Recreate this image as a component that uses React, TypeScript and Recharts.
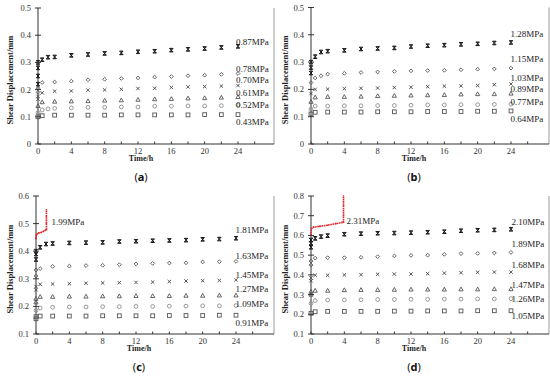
import React from 'react';
import { ScatterChart, Scatter, XAxis, YAxis, ReferenceDot, ReferenceLine } from 'recharts';

const SERIF = '"Liberation Serif", "Times New Roman", serif';

// creep-stage sampling times (h)
const times = [0.5, 1.2, 2, 4, 6, 8, 10, 12, 14, 16, 18, 20, 22, 24];
const xTicks = [0, 2, 4, 6, 8, 10, 12, 14, 16, 18, 20, 22, 24, 26];

// ---------- panel (a) ----------
const aLabels = ['0.87MPa', '0.78MPa', '0.70MPa', '0.61MPa', '0.52MPa', '0.43MPa'];
const aLabelY = [0.377, 0.275, 0.236, 0.189, 0.143, 0.08];
const aS1 = [0.31, 0.319, 0.32, 0.326, 0.329, 0.333, 0.335, 0.339, 0.341, 0.345, 0.348, 0.351, 0.355, 0.359];
const aS2 = [0.226, null, 0.228, 0.231, 0.236, 0.238, 0.241, 0.243, 0.246, 0.248, 0.251, 0.253, 0.256, 0.259];
const aS3 = [0.188, null, 0.194, 0.195, 0.198, 0.199, 0.201, 0.204, 0.205, 0.208, 0.21, 0.211, 0.213, 0.215];
const aS4 = [0.154, null, 0.156, 0.157, 0.158, 0.16, 0.161, 0.163, 0.165, 0.166, 0.168, 0.169, 0.171, 0.173];
const aS5 = [0.125, 0.129, 0.131, 0.133, 0.135, 0.135, 0.136, 0.136, 0.139, 0.139, 0.14, 0.14, 0.141, 0.144];
const aS6 = [0.104, null, 0.106, 0.106, 0.106, 0.106, 0.107, 0.107, 0.107, 0.107, 0.107, 0.108, 0.108, 0.108];
const aLoad = [[0.22, 0.25, 0.28, 0.3], [0.19, 0.205], [0.165, 0.175], [0.14], [0.115], [0.1]];

// ---------- panel (b) ----------
const bLabels = ['1.28MPa', '1.15MPa', '1.03MPa', '0.89MPa', '0.77MPa', '0.64MPa'];
const bLabelY = [0.403, 0.311, 0.244, 0.201, 0.155, 0.094];
const bS1 = [0.32, 0.337, 0.34, 0.343, 0.348, 0.35, 0.352, 0.357, 0.36, 0.362, 0.365, 0.367, 0.37, 0.372];
const bS2 = [0.242, 0.25, 0.256, 0.259, 0.262, 0.264, 0.266, 0.268, 0.269, 0.27, 0.272, 0.274, 0.275, 0.278];
const bS3 = [0.2, null, 0.201, 0.203, 0.204, 0.205, 0.207, 0.208, 0.21, 0.212, 0.213, 0.214, 0.217, 0.22];
const bS4 = [0.171, null, 0.173, 0.173, 0.174, 0.176, 0.177, 0.178, 0.179, 0.18, 0.182, 0.183, 0.183, 0.185];
const bS5 = [0.139, null, 0.139, 0.14, 0.14, 0.141, 0.141, 0.142, 0.143, 0.143, 0.144, 0.144, 0.145, 0.146];
const bS6 = [0.116, null, 0.117, 0.117, 0.117, 0.118, 0.118, 0.118, 0.119, 0.119, 0.119, 0.12, 0.12, 0.121];
const bLoad = [[0.26, 0.28, 0.3], [0.225], [0.185], [0.155], [0.128], [0.11]];

// ---------- panel (c) ----------
const cLabels = ['1.81MPa', '1.63MPa', '1.45MPa', '1.27MPa', '1.09MPa', '0.91MPa'];
const cLabelY = [0.479, 0.385, 0.316, 0.264, 0.211, 0.142];
const cS1 = [0.414, 0.426, 0.428, 0.43, 0.431, 0.432, 0.435, 0.436, 0.438, 0.439, 0.44, 0.443, 0.444, 0.447];
const cS2 = [0.337, null, 0.345, 0.346, 0.348, 0.349, 0.351, 0.354, 0.356, 0.357, 0.358, 0.361, 0.362, 0.363];
const cS3 = [0.28, null, 0.281, 0.282, 0.284, 0.285, 0.286, 0.287, 0.288, 0.29, 0.292, 0.293, 0.294, 0.296];
const cS4 = [0.235, null, 0.235, 0.236, 0.236, 0.237, 0.237, 0.238, 0.238, 0.238, 0.239, 0.239, 0.24, 0.24];
const cS5 = [0.194, null, 0.197, 0.198, 0.198, 0.199, 0.199, 0.2, 0.2, 0.201, 0.201, 0.202, 0.202, 0.203];
const cS6 = [0.165, null, 0.165, 0.165, 0.165, 0.166, 0.166, 0.166, 0.166, 0.167, 0.167, 0.167, 0.168, 0.168];
const cLoad = [[0.37, 0.39, 0.4], [0.31, 0.332], [0.26, 0.272], [0.215, 0.228], [0.185], [0.155, 0.163]];
const cRedT = [0, 0.05, 0.3, 0.6, 0.9, 1.25, 1.25, 1.25, 1.25];
const cRedV = [0.445, 0.46, 0.466, 0.468, 0.472, 0.478, 0.5, 0.525, 0.55];
const cRedLabel = '1.99MPa';

// ---------- panel (d) ----------
const dLabels = ['2.10MPa', '1.89MPa', '1.68MPa', '1.47MPa', '1.26MPa', '1.05MPa'];
const dLabelY = [0.67, 0.56, 0.45, 0.352, 0.278, 0.191];
const dS1 = [0.585, 0.594, 0.599, 0.606, 0.609, 0.611, 0.612, 0.614, 0.616, 0.619, 0.624, 0.626, 0.628, 0.631];
const dS2 = [0.485, null, 0.487, 0.487, 0.489, 0.492, 0.496, 0.499, 0.5, 0.504, 0.508, 0.509, 0.511, 0.514];
const dS3 = [0.398, null, 0.398, 0.4, 0.401, 0.403, 0.404, 0.404, 0.406, 0.409, 0.411, 0.413, 0.414, 0.414];
const dS4 = [0.32, null, 0.32, 0.323, 0.324, 0.324, 0.325, 0.326, 0.326, 0.326, 0.327, 0.327, 0.328, 0.328];
const dS5 = [0.269, null, 0.272, 0.273, 0.274, 0.275, 0.275, 0.276, 0.276, 0.277, 0.277, 0.278, 0.278, 0.279];
const dS6 = [0.213, null, 0.215, 0.215, 0.215, 0.215, 0.216, 0.216, 0.217, 0.217, 0.217, 0.218, 0.218, 0.218];
const dLoad = [[0.54, 0.56, 0.577], [0.45, 0.47], [0.37, 0.385], [0.3, 0.315], [0.255], [0.205]];
const dRedT = [0, 0.05, 0.3, 1, 2, 3, 3.9, 3.9, 3.9, 3.9];
const dRedV = [0.6, 0.635, 0.642, 0.646, 0.652, 0.66, 0.667, 0.7, 0.75, 0.8];
const dRedLabel = '2.31MPa';

type Pt = { t: number; v: number };
const build = (vals: (number | null)[], load: number[]): Pt[] => [
  ...load.map((v) => ({ t: 0, v })),
  ...(vals.map((v, i) => ({ t: times[i], v })).filter((p) => p.v !== null) as Pt[]),
];
const zip = (ts: number[], vs: number[]): Pt[] => ts.map((t, i) => ({ t, v: vs[i] }));

// ---------- markers ----------
const Hourglass = (p: any) => {
  const { cx, cy } = p;
  const s = 1.8;
  return <path d={`M${cx - s},${cy - s}L${cx + s},${cy - s}L${cx - s},${cy + s}L${cx + s},${cy + s}Z`} fill="#555" stroke="#1a1a1a" strokeWidth={1} />;
};
const Diamond = (p: any) => {
  const { cx, cy } = p;
  const s = 1.9;
  return <path d={`M${cx},${cy - s}L${cx + s},${cy}L${cx},${cy + s}L${cx - s},${cy}Z`} fill="none" stroke="#555" strokeWidth={0.9} />;
};
const Cross = (p: any) => {
  const { cx, cy } = p;
  const s = 1.7;
  return <path d={`M${cx - s},${cy - s}L${cx + s},${cy + s}M${cx + s},${cy - s}L${cx - s},${cy + s}`} fill="none" stroke="#444" strokeWidth={0.9} />;
};
const Triangle = (p: any) => {
  const { cx, cy } = p;
  return <path d={`M${cx},${cy - 2.2}L${cx + 2.1},${cy + 1.6}L${cx - 2.1},${cy + 1.6}Z`} fill="none" stroke="#555" strokeWidth={0.9} />;
};
const Circle = (p: any) => <circle cx={p.cx} cy={p.cy} r={1.9} fill="none" stroke="#8c8c8c" strokeWidth={0.9} />;
const Square = (p: any) => <rect x={p.cx - 1.9} y={p.cy - 1.9} width={3.8} height={3.8} fill="none" stroke="#555" strokeWidth={0.9} />;
const RedDot = (p: any) => <circle cx={p.cx} cy={p.cy} r={0.8} fill="#e3242b" />;
const shapes = [Hourglass, Diamond, Cross, Triangle, Circle, Square];

const PLOT_BOTTOM = 144;

const makeYTick = (axisX: number) => (p: any) => {
  const { y, payload } = p;
  const v = payload.value;
  return (
    <g>
      <line x1={axisX - 3} x2={axisX + 3} y1={y} y2={y} stroke="#333" strokeWidth={1} />
      <text x={axisX - 7} y={y + 3} textAnchor="end" fontSize={8.5} fontFamily={SERIF} fill="#333">
        {v === 0 ? '0' : v.toFixed(1)}
      </text>
    </g>
  );
};

const XTick = (p: any) => {
  const { x, payload } = p;
  const v = payload.value;
  return (
    <g>
      <line x1={x} x2={x} y1={PLOT_BOTTOM} y2={PLOT_BOTTOM - 2.5} stroke="#333" strokeWidth={1} />
      {v % 4 === 0 && v <= 24 ? (
        <text x={x} y={PLOT_BOTTOM + 9.5} textAnchor="middle" fontSize={8.5} fontFamily={SERIF} fill="#333">
          {v}
        </text>
      ) : null}
    </g>
  );
};

type PanelProps = {
  left: number;
  top: number;
  axisX: number;
  plotTop: number;
  yDomain: [number, number];
  yTicks: number[];
  series: Pt[][];
  labels: string[];
  labelY: number[];
  labelX: number;
  red?: Pt[];
  redLabel?: string;
  redLabelPos?: [number, number];
  letter: string;
};

const Panel = (pp: PanelProps) => {
  const W = 275;
  const H = 190;
  const xMax = (W - 1 - pp.axisX) / (200 / 24);
  const center = pp.axisX + 103;
  return (
    <div style={{ position: 'absolute', left: pp.left, top: pp.top, width: W, height: 193 }}>
      <ScatterChart width={W} height={H} margin={{ top: pp.plotTop, right: 1, bottom: 0, left: 0 }}>
        <XAxis
          type="number"
          dataKey="t"
          domain={[0, xMax]}
          ticks={xTicks}
          interval={0}
          height={H - PLOT_BOTTOM}
          axisLine={{ stroke: '#333', strokeWidth: 1 }}
          tickLine={false}
          tick={XTick}
        />
        <YAxis
          type="number"
          dataKey="v"
          domain={pp.yDomain}
          ticks={pp.yTicks}
          interval={0}
          width={pp.axisX}
          axisLine={{ stroke: '#333', strokeWidth: 1 }}
          tickLine={false}
          tick={makeYTick(pp.axisX)}
        />
        <ReferenceLine x={xMax} stroke="#999" strokeWidth={1} />
        {pp.series.map((d, i) => (
          <Scatter key={i} data={d} shape={shapes[i]} isAnimationActive={false} />
        ))}
        {pp.red ? (
          <Scatter
            data={pp.red}
            shape={RedDot}
            line={{ stroke: '#e3242b', strokeWidth: 1.6, strokeDasharray: '1.6 0.6' }}
            isAnimationActive={false}
          />
        ) : null}
        {pp.labels.map((l, i) => (
          <ReferenceDot
            key={l}
            x={pp.labelX}
            y={pp.labelY[i]}
            r={0}
            fill="none"
            stroke="none"
            label={{ value: l, position: 'right', offset: 0, fontSize: 9, fontFamily: SERIF, fill: '#222' }}
          />
        ))}
        {pp.redLabel && pp.redLabelPos ? (
          <ReferenceDot
            x={pp.redLabelPos[0]}
            y={pp.redLabelPos[1]}
            r={0}
            fill="none"
            stroke="none"
            label={{ value: pp.redLabel, position: 'right', offset: 0, fontSize: 9, fontFamily: SERIF, fill: '#222' }}
          />
        ) : null}
      </ScatterChart>
      <svg width={W} height={193} style={{ position: 'absolute', left: 0, top: 0, pointerEvents: 'none' }}>
        <text
          transform={`translate(12.9, ${(pp.plotTop + PLOT_BOTTOM) / 2 + 4}) rotate(-90)`}
          textAnchor="middle"
          fontSize={8.5}
          fontWeight="bold"
          fontFamily={SERIF}
          fill="#222"
        >
          Shear Displacement/mm
        </text>
        <text x={center} y={PLOT_BOTTOM + 17} textAnchor="middle" fontSize={8} fontWeight="bold" fontFamily={SERIF} fill="#222">
          Time/h
        </text>
        <text x={center} y={PLOT_BOTTOM + 37} textAnchor="middle" fontSize={11} fontFamily='"Noto Sans", sans-serif' fill="#111">
          (<tspan fontWeight="bold">{pp.letter}</tspan>)
        </text>
      </svg>
    </div>
  );
};

export default function App() {
  const aSeries = [aS1, aS2, aS3, aS4, aS5, aS6].map((s, i) => build(s, aLoad[i]));
  const bSeries = [bS1, bS2, bS3, bS4, bS5, bS6].map((s, i) => build(s, bLoad[i]));
  const cSeries = [cS1, cS2, cS3, cS4, cS5, cS6].map((s, i) => build(s, cLoad[i]));
  const dSeries = [dS1, dS2, dS3, dS4, dS5, dS6].map((s, i) => build(s, dLoad[i]));
  return (
    <div style={{ position: 'absolute', left: 0, top: 0, width: 550, height: 383, background: '#fff', overflow: 'hidden' }}>
      <Panel
        left={0}
        top={0}
        axisX={38}
        plotTop={8}
        yDomain={[0, 0.5]}
        yTicks={[0, 0.1, 0.2, 0.3, 0.4, 0.5]}
        series={aSeries}
        labels={aLabels}
        labelY={aLabelY}
        labelX={23.75}
        letter="a"
      />
      <Panel
        left={275}
        top={0}
        axisX={36}
        plotTop={7.5}
        yDomain={[0, 0.5]}
        yTicks={[0, 0.1, 0.2, 0.3, 0.4, 0.5]}
        series={bSeries}
        labels={bLabels}
        labelY={bLabelY}
        labelX={23.95}
        letter="b"
      />
      <Panel
        left={0}
        top={190}
        axisX={36}
        plotTop={6}
        yDomain={[0.1, 0.6]}
        yTicks={[0.1, 0.2, 0.3, 0.4, 0.5, 0.6]}
        series={cSeries}
        labels={cLabels}
        labelY={cLabelY}
        labelX={23.95}
        red={zip(cRedT, cRedV)}
        redLabel={cRedLabel}
        redLabelPos={[1.85, 0.505]}
        letter="c"
      />
      <Panel
        left={275}
        top={190}
        axisX={36}
        plotTop={6}
        yDomain={[0.1, 0.8]}
        yTicks={[0.1, 0.2, 0.3, 0.4, 0.5, 0.6, 0.7, 0.8]}
        series={dSeries}
        labels={dLabels}
        labelY={dLabelY}
        labelX={24.05}
        red={zip(dRedT, dRedV)}
        redLabel={dRedLabel}
        redLabelPos={[4.25, 0.673]}
        letter="d"
      />
    </div>
  );
}
